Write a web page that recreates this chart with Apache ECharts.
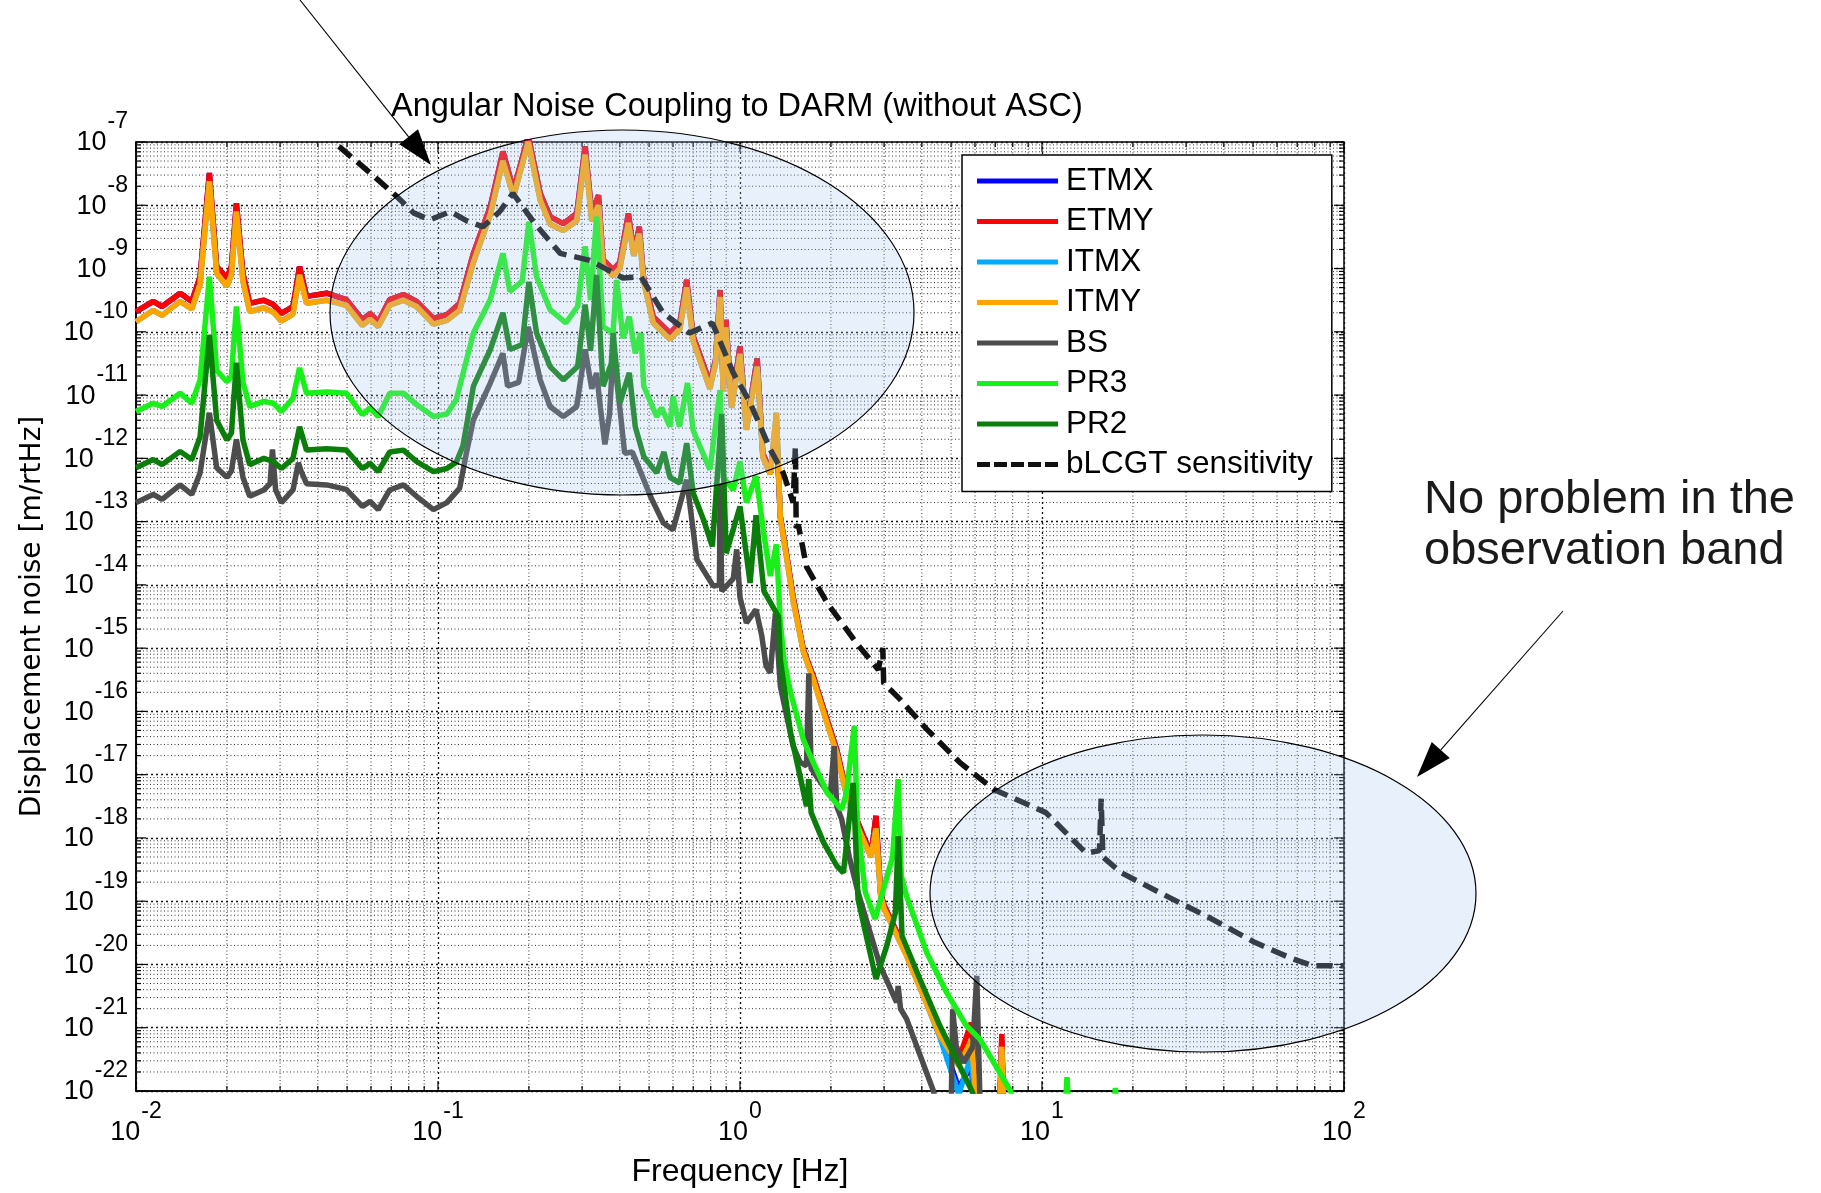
<!DOCTYPE html>
<html>
<head>
<meta charset="utf-8">
<title>Angular Noise Coupling to DARM</title>
<script src="https://cdn.jsdelivr.net/npm/echarts@6/dist/echarts.min.js"></script>
<style>
    html, body { margin: 0; padding: 0; background: #fff; }
    #chart { width: 1821px; height: 1193px; }
</style>
</head>
<body>
<div id="chart"></div>
<script>
/* ================================================================
   Angular noise coupling to DARM.
   Frequencies in Hz, noise given as log10 of [m/rtHz]
   ================================================================ */

/* ===== test masses (ETMX / ETMY / ITMX / ITMY share one grid) ===== */
const fTM = [
    0.010, 0.0114, 0.0122, 0.014, 0.0153, 0.0163, 0.0175, 0.0185, 0.020, 0.0207,
    0.0215, 0.0226, 0.0238, 0.0265, 0.0285, 0.0303, 0.0331, 0.0348, 0.0367, 0.0428,
    0.0497, 0.0562, 0.0596, 0.0634, 0.0692, 0.0768, 0.0849, 0.0966, 0.107, 0.118,
    0.131, 0.149, 0.164, 0.178, 0.199, 0.218, 0.235, 0.26, 0.288, 0.307,
    0.323, 0.34, 0.352, 0.38, 0.40, 0.427, 0.445, 0.464, 0.479, 0.516,
    0.586, 0.632, 0.666, 0.70, 0.795, 0.83, 0.859, 0.88, 0.898, 0.938,
    1.0, 1.05, 1.14, 1.19, 1.26, 1.32, 1.36, 1.43, 1.50, 1.62,
    1.75, 1.94, 2.09, 2.23, 2.43, 2.63, 2.72, 2.82, 2.92, 3.0,
    3.56, 4.05, 4.59, 5.3, 5.83, 6.0, 6.3, 7.2, 7.36, 7.5,
    8.5
];
const etmyLog = [
    -9.68, -9.52, -9.60, -9.39, -9.52, -9.13, -7.49, -8.97, -9.15, -8.97,
    -7.97, -9.08, -9.55, -9.50, -9.57, -9.71, -9.60, -8.97, -9.44, -9.39,
    -9.49, -9.81, -9.71, -9.84, -9.49, -9.41, -9.52, -9.79, -9.73, -9.55,
    -8.76, -8.02, -7.15, -7.76, -6.90, -7.81, -8.18, -8.29, -8.13, -7.07,
    -8.13, -7.84, -8.86, -9.02, -8.90, -8.13, -8.76, -8.34, -9.13, -9.76,
    -10.02, -9.86, -9.18, -10.07, -10.81, -10.44, -9.34, -10.90, -9.81, -11.13,
    -10.23, -11.50, -10.42, -11.92, -12.20, -11.50, -12.92, -13.55, -14.20, -15.02,
    -15.45, -16.13, -16.60, -17.18, -17.70, -18.10, -18.25, -17.65, -18.86, -19.07,
    -19.81, -20.44, -21.07, -21.50, -20.92, -21.80, -22.30, -22.60, -21.10, -22.60,
    -23.50
];
const etmxLog = [
    -9.68, -9.52, -9.60, -9.39, -9.52, -9.13, -7.49, -8.97, -9.15, -8.97,
    -7.97, -9.08, -9.55, -9.50, -9.57, -9.71, -9.60, -8.97, -9.44, -9.39,
    -9.49, -9.81, -9.71, -9.84, -9.49, -9.41, -9.52, -9.79, -9.73, -9.55,
    -8.76, -8.02, -7.15, -7.76, -6.90, -7.81, -8.18, -8.29, -8.13, -7.07,
    -8.13, -7.84, -8.86, -9.02, -8.90, -8.13, -8.76, -8.34, -9.13, -9.76,
    -10.02, -9.86, -9.18, -10.07, -10.81, -10.44, -9.34, -10.90, -9.81, -11.13,
    -10.23, -11.50, -10.42, -11.92, -12.20, -11.50, -12.92, -13.55, -14.20, -15.02,
    -15.45, -16.13, -16.60, -17.18, -17.70, -18.10, -18.25, -17.65, -18.86, -19.07,
    -19.81, -20.44, -21.10, -21.95, -21.60, -22.30, -22.50, -22.60, -21.20, -22.60,
    -23.50
];
const itmyLog = [
    -9.84, -9.66, -9.74, -9.52, -9.64, -9.25, -7.62, -9.08, -9.28, -9.10,
    -8.10, -9.20, -9.68, -9.62, -9.69, -9.83, -9.72, -9.10, -9.55, -9.50,
    -9.58, -9.90, -9.80, -9.92, -9.58, -9.50, -9.60, -9.88, -9.82, -9.66,
    -8.90, -8.15, -7.30, -7.86, -7.00, -7.92, -8.30, -8.40, -8.25, -7.20,
    -8.25, -8.00, -8.95, -9.12, -9.00, -8.28, -8.80, -8.45, -9.20, -9.86,
    -10.12, -9.96, -9.30, -10.15, -10.90, -10.50, -9.45, -10.95, -9.93, -11.20,
    -10.35, -11.55, -10.55, -11.98, -12.25, -11.28, -12.95, -13.60, -14.25, -15.05,
    -15.50, -16.18, -16.66, -17.24, -17.78, -18.16, -18.30, -17.85, -18.90, -19.12,
    -19.86, -20.50, -21.12, -21.60, -21.20, -21.90, -22.30, -22.60, -21.30, -22.60,
    -23.50
];
const itmxLog = [
    -9.84, -9.66, -9.74, -9.52, -9.64, -9.25, -7.62, -9.08, -9.28, -9.10,
    -8.10, -9.20, -9.68, -9.62, -9.69, -9.83, -9.72, -9.10, -9.55, -9.50,
    -9.58, -9.90, -9.80, -9.92, -9.58, -9.50, -9.60, -9.88, -9.82, -9.66,
    -8.90, -8.15, -7.30, -7.86, -7.00, -7.92, -8.30, -8.40, -8.25, -7.20,
    -8.25, -8.00, -8.95, -9.12, -9.00, -8.28, -8.80, -8.45, -9.20, -9.86,
    -10.12, -9.96, -9.30, -10.15, -10.90, -10.50, -9.45, -10.95, -9.93, -11.20,
    -10.35, -11.55, -10.55, -11.98, -12.25, -11.28, -12.95, -13.60, -14.25, -15.05,
    -15.50, -16.18, -16.66, -17.24, -17.78, -18.16, -18.30, -17.85, -18.90, -19.12,
    -19.86, -20.50, -21.15, -22.05, -21.45, -22.20, -22.50, -22.60, -21.35, -22.60,
    -23.50
];

/* ===== BS ===== */
const fBS = [
    0.010, 0.0114, 0.0122, 0.014, 0.0153, 0.0163, 0.0175, 0.0185, 0.020, 0.0207,
    0.0215, 0.0226, 0.0238, 0.0265, 0.0278, 0.0283, 0.029, 0.0303, 0.0331, 0.0345,
    0.0352, 0.0367, 0.0428, 0.0497, 0.0562, 0.0596, 0.0634, 0.0692, 0.0768, 0.0849,
    0.0966, 0.107, 0.118, 0.124, 0.131, 0.149, 0.164, 0.17, 0.185, 0.199,
    0.218, 0.235, 0.26, 0.288, 0.307, 0.323, 0.335, 0.345, 0.357, 0.37,
    0.38, 0.40, 0.415, 0.44, 0.47, 0.505, 0.557, 0.60, 0.666, 0.72,
    0.816, 0.855, 0.859, 0.87, 0.95, 0.975, 1.0, 1.05, 1.13, 1.18,
    1.22, 1.26, 1.31, 1.36, 1.50, 1.58, 1.66, 1.69, 1.72, 1.99,
    2.05, 2.09, 2.17, 2.3, 2.46, 2.91, 3.3, 3.34, 3.4, 3.56,
    4.37, 4.7, 5.0, 5.06, 5.2, 5.5, 5.9, 6.08, 6.25, 6.6
];
const bsLog = [
    -12.70, -12.57, -12.65, -12.42, -12.57, -12.23, -11.28, -12.15, -12.30, -12.20,
    -11.70, -12.30, -12.60, -12.50, -12.40, -11.86, -12.50, -12.70, -12.50, -12.07,
    -12.20, -12.40, -12.42, -12.49, -12.76, -12.68, -12.81, -12.50, -12.42, -12.60,
    -12.81, -12.70, -12.47, -11.93, -11.39, -10.81, -10.34, -10.86, -10.80, -9.92,
    -10.76, -11.18, -11.34, -11.18, -10.28, -10.90, -10.65, -11.20, -11.78, -11.30,
    -10.28, -11.20, -11.92, -11.90, -12.23, -12.60, -13.02, -13.13, -12.34, -13.60,
    -14.02, -14.00, -12.40, -14.10, -13.90, -13.44, -14.20, -14.60, -14.39, -14.80,
    -15.28, -15.39, -14.45, -15.60, -16.55, -16.80, -16.86, -15.40, -16.90, -17.34,
    -16.55, -17.50, -17.70, -18.30, -18.86, -20.02, -20.60, -20.34, -20.70, -20.86,
    -22.00, -22.70, -22.40, -20.71, -21.30, -21.55, -21.30, -20.18, -22.40, -23.50
];

/* ===== PR3 ===== */
const fPR3 = [
    0.010, 0.0114, 0.0122, 0.014, 0.0153, 0.0163, 0.0175, 0.0185, 0.020, 0.0207,
    0.0215, 0.0226, 0.0238, 0.0265, 0.0285, 0.0303, 0.0331, 0.0348, 0.0367, 0.0428,
    0.0497, 0.0562, 0.0596, 0.0634, 0.0692, 0.0768, 0.0849, 0.0966, 0.107, 0.115,
    0.131, 0.149, 0.164, 0.173, 0.19, 0.20, 0.212, 0.235, 0.265, 0.29,
    0.307, 0.32, 0.335, 0.352, 0.38, 0.39, 0.41, 0.43, 0.45, 0.47,
    0.48, 0.53, 0.55, 0.586, 0.60, 0.63, 0.67, 0.70, 0.795, 0.859,
    0.88, 0.95, 1.0, 1.05, 1.13, 1.2, 1.26, 1.32, 1.36, 1.40,
    1.47, 1.62, 1.69, 1.94, 2.17, 2.25, 2.39, 2.45, 2.60, 2.80,
    3.2, 3.34, 3.42, 3.56, 4.15, 4.83, 5.62, 6.23, 7.87, 8.5,
    11.9, 12.1, 12.3, 17.3, 17.5, 17.7, 25
];
const pr3Log = [
    -11.26, -11.13, -11.18, -10.97, -11.13, -10.76, -9.13, -10.61, -10.79, -10.70,
    -9.60, -10.80, -11.18, -11.10, -11.13, -11.26, -11.05, -10.57, -10.97, -10.95,
    -10.97, -11.31, -11.20, -11.34, -10.97, -10.97, -11.15, -11.34, -11.30, -11.07,
    -10.02, -9.49, -8.76, -9.36, -9.20, -8.26, -9.13, -9.65, -9.86, -9.60,
    -8.65, -9.50, -8.18, -9.92, -10.02, -9.18, -10.10, -9.76, -10.34, -10.02,
    -10.86, -11.34, -11.20, -11.50, -11.02, -11.50, -10.81, -11.56, -12.18, -10.92,
    -12.30, -12.50, -12.05, -12.70, -12.28, -13.20, -13.86, -13.36, -14.60, -15.20,
    -15.70, -16.44, -16.65, -17.28, -17.55, -17.30, -16.23, -17.80, -18.86, -19.28,
    -18.30, -17.07, -18.60, -18.92, -19.81, -20.44, -20.97, -21.18, -22.00, -22.50,
    -22.40, -21.78, -22.40, -22.30, -21.95, -22.30, -23.00
];

/* ===== PR2 ===== */
const fPR2 = [
    0.010, 0.0114, 0.0122, 0.014, 0.0153, 0.0163, 0.0175, 0.0185, 0.020, 0.0207,
    0.0215, 0.0226, 0.0238, 0.0265, 0.0285, 0.0303, 0.0331, 0.0348, 0.0367, 0.0428,
    0.0497, 0.0562, 0.0596, 0.0634, 0.0692, 0.0768, 0.0849, 0.0966, 0.107, 0.115,
    0.121, 0.131, 0.149, 0.164, 0.173, 0.19, 0.20, 0.212, 0.235, 0.26,
    0.29, 0.307, 0.32, 0.335, 0.352, 0.375, 0.38, 0.40, 0.43, 0.45,
    0.48, 0.53, 0.56, 0.586, 0.632, 0.666, 0.70, 0.757, 0.81, 0.87,
    0.9, 1.0, 1.08, 1.13, 1.2, 1.34, 1.36, 1.47, 1.58, 1.66,
    1.69, 1.72, 1.89, 2.09, 2.2, 2.37, 2.46, 2.82, 3.06, 3.27,
    3.34, 3.44, 3.94, 4.59, 5.86, 6.5
];
const pr2Log = [
    -12.15, -12.02, -12.10, -11.89, -12.02, -11.66, -10.05, -11.40, -11.71, -11.60,
    -10.49, -11.71, -12.10, -12.00, -12.05, -12.16, -12.00, -11.50, -11.87, -11.85,
    -11.87, -12.16, -12.08, -12.21, -11.90, -11.87, -12.05, -12.21, -12.16, -12.06,
    -11.80, -10.86, -10.28, -9.70, -10.28, -10.20, -9.21, -10.02, -10.55, -10.76,
    -10.55, -9.57, -10.30, -9.10, -10.86, -10.50, -10.02, -11.13, -10.65, -11.50,
    -11.97, -12.23, -11.90, -12.30, -12.39, -11.76, -12.55, -12.97, -13.39, -11.30,
    -13.50, -12.76, -13.97, -12.90, -14.10, -14.50, -15.18, -16.34, -17.02, -17.50,
    -17.07, -17.60, -18.07, -18.44, -18.55, -17.13, -18.97, -20.23, -19.71, -19.18,
    -17.97, -19.55, -20.23, -20.97, -22.00, -22.60
];

/* ===== bLCGT sensitivity ===== */
const fSens = [
    0.047, 0.060, 0.073, 0.083, 0.094, 0.110, 0.125, 0.141, 0.160, 0.177,
    0.21, 0.254, 0.318, 0.41, 0.47, 0.556, 0.68, 0.81, 0.95, 1.08,
    1.26, 1.39, 1.50, 1.525, 1.535, 1.56, 1.66, 1.94, 2.43, 2.87,
    2.97, 2.99, 3.39, 4.15, 5.35, 6.9, 10.3, 14.0, 15.5, 15.7,
    15.9, 18.3, 24.9, 35.5, 50.6, 65.9, 78.7, 100
];
const sensLog = [
    -7.07, -7.50, -7.86, -8.12, -8.23, -8.10, -8.25, -8.34, -8.10, -7.81,
    -8.30, -8.76, -8.87, -9.15, -9.13, -9.70, -10.02, -9.86, -10.65, -11.12,
    -11.86, -12.23, -12.70, -11.82, -13.10, -13.05, -13.71, -14.28, -14.92, -15.34,
    -15.00, -15.55, -15.81, -16.28, -16.81, -17.23, -17.60, -18.24, -18.20, -17.38,
    -18.30, -18.55, -18.88, -19.25, -19.65, -19.89, -20.02, -20.02
];

const seriesNames = ["ETMX", "ETMY", "ITMX", "ITMY", "BS", "PR3", "PR2", "bLCGT sensitivity"];
const seriesColors = ["#0000ff", "#ff0000", "#00aaff", "#ffa500", "#4d4d4d", "#19f019", "#0a7d0a", "#111111"];
const xTicks = [0.01, 0.1, 1, 10, 100];
const yMin = -22, yMax = -7;

/* ===== helpers ===== */
const FONT = '"Liberation Sans", Arial, sans-serif';
const pairs = (f, lg) => f.map((x, i) => [x, lg[i]]);
const supText = (exp) => "{b|10}{s|" + exp + "}";
const tickRich = {
    b: { fontSize: 27, fontFamily: FONT, color: "#000", verticalAlign: "bottom" },
    s: { fontSize: 23, fontFamily: FONT, color: "#000", verticalAlign: "top", padding: [0, 0, 23, 1] },
};
const DASH_ICON = "path://M0,0h13v5h-13z M17,0h13v5h-13z M34,0h13v5h-13z M51,0h13v5h-13z M68,0h13v5h-13z";

// minor grid positions (2..9 per decade), MATLAB style
const xGrid = [];
xTicks.forEach((d, i) => {
    xGrid.push([d, -15, 1]);
    if (i < xTicks.length - 1) for (let m = 2; m <= 9; m++) xGrid.push([+(m * d).toPrecision(3), -15, 0]);
});
const yGrid = [];
for (let n = yMin; n <= yMax; n++) {
    yGrid.push([1, n, 1]);
    if (n < yMax) for (let m = 2; m <= 9; m++) yGrid.push([1, n + Math.log10(m), 0]);
}

function renderGrid(isX) {
    return function (params, api) {
        const cs = params.coordSys;
        const major = api.value(2) === 1;
        const p = api.coord([api.value(0), api.value(1)]);
        const len = major ? 10 : 5;
        const tick = { stroke: "#000", lineWidth: 1.2 };
        const dots = { stroke: "#333", lineWidth: 1, lineDash: [1, 2.5] };
        const ch = [];
        if (isX) {
            const x = p[0], t = cs.y, b = cs.y + cs.height;
            if (!major) ch.push({ type: "line", shape: { x1: x, y1: t, x2: x, y2: b }, style: dots });
            ch.push({ type: "line", shape: { x1: x, y1: b, x2: x, y2: b - len }, style: tick });
            ch.push({ type: "line", shape: { x1: x, y1: t, x2: x, y2: t + len }, style: tick });
        } else {
            const y = p[1], l = cs.x, r = cs.x + cs.width;
            if (!major) ch.push({ type: "line", shape: { x1: l, y1: y, x2: r, y2: y }, style: dots });
            ch.push({ type: "line", shape: { x1: l, y1: y, x2: l + len, y2: y }, style: tick });
            ch.push({ type: "line", shape: { x1: r, y1: y, x2: r - len, y2: y }, style: tick });
        }
        return { type: "group", children: ch };
    };
}

function arrow(x1, y1, x2, y2, head, half) {
    const L = Math.hypot(x2 - x1, y2 - y1);
    const ux = (x2 - x1) / L, uy = (y2 - y1) / L;
    const bx = x2 - ux * head, by = y2 - uy * head;
    return [
        { type: "line", z: 101, silent: true, shape: { x1, y1, x2: bx, y2: by }, style: { stroke: "#000", lineWidth: 1.1 } },
        { type: "polygon", z: 101, silent: true,
          shape: { points: [[x2, y2], [bx - uy * half, by + ux * half], [bx + uy * half, by - ux * half]] },
          style: { fill: "#000" } },
    ];
}

/* ===== series ===== */
const traces = [
    pairs(fTM, etmxLog), pairs(fTM, etmyLog), pairs(fTM, itmxLog), pairs(fTM, itmyLog),
    pairs(fBS, bsLog), pairs(fPR3, pr3Log), pairs(fPR2, pr2Log), pairs(fSens, sensLog),
];
const lineSeries = traces.map((data, i) => ({
    type: "line", name: seriesNames[i], data,
    symbol: "none", showSymbol: false, clip: true, silent: true,
    color: seriesColors[i],
    lineStyle: i === 7
        ? { color: seriesColors[i], width: 5.5, type: [16, 8] }
        : { color: seriesColors[i], width: 5.5, type: "solid" },
}));

const chart = echarts.init(document.getElementById("chart"), null, { renderer: "canvas" });
chart.setOption({
    animation: false,
    backgroundColor: "#fff",
    title: {
        text: "Angular Noise Coupling to DARM (without ASC)",
        left: 391, top: 91, padding: 0,
        textStyle: { fontSize: 32.5, fontWeight: "normal", fontFamily: FONT, color: "#000" },
    },
    grid: { left: 136, top: 142, width: 1208, height: 950, show: true, borderColor: "#000", borderWidth: 1.5 },
    legend: {
        data: seriesNames.map((n, i) => ({ name: n, icon: i === 7 ? DASH_ICON : "rect" })),
        orient: "vertical", left: 962, top: 155,
        padding: [10, 19, 11, 15], itemWidth: 81, itemHeight: 5, itemGap: 8.5,
        backgroundColor: "#fff", borderColor: "#000", borderWidth: 1.5,
        selectedMode: false,
        textStyle: { fontSize: 31.5, lineHeight: 30, fontFamily: FONT, color: "#000", padding: [0, 0, 0, 3] },
    },
    xAxis: {
        type: "log", logBase: 10, min: 0.01, max: 100,
        axisLine: { show: true, lineStyle: { color: "#000", width: 1.5 } },
        axisTick: { show: false },
        splitLine: { show: true, lineStyle: { color: "#111", width: 1.3, type: [2, 3] } },
        axisLabel: { margin: 9, formatter: (v) => supText(Math.round(Math.log10(v))), rich: tickRich },
        name: "Frequency [Hz]", nameLocation: "middle", nameGap: 65,
        nameTextStyle: { fontSize: 32, fontFamily: FONT, color: "#000" },
    },
    yAxis: {
        type: "value", min: yMin, max: yMax, interval: 1,
        axisLine: { show: true, lineStyle: { color: "#000", width: 1.5 } },
        axisTick: { show: false },
        splitLine: { show: true, lineStyle: { color: "#111", width: 1.3, type: [2, 3] } },
        axisLabel: { margin: 8, padding: [0, 0, 17, 0], formatter: (v) => supText(v), rich: tickRich },
        name: "Displacement noise [m/rtHz]", nameLocation: "middle", nameGap: 89,
        nameTextStyle: { fontSize: 28, fontFamily: '"DejaVu Sans", sans-serif', color: "#000" },
    },
    series: [
        { type: "custom", name: "xgrid", silent: true, z: 1, data: xGrid, encode: { x: 0, y: 1 }, renderItem: renderGrid(true) },
        { type: "custom", name: "ygrid", silent: true, z: 1, data: yGrid, encode: { x: 0, y: 1 }, renderItem: renderGrid(false) },
        ...lineSeries,
    ],
    graphic: [
        { type: "ellipse", z: 100, silent: true, shape: { cx: 622, cy: 312.5, rx: 292, ry: 182.5 },
          style: { fill: "rgba(163,199,239,0.25)", stroke: "#000", lineWidth: 1.2 } },
        { type: "ellipse", z: 100, silent: true, shape: { cx: 1203, cy: 893.5, rx: 273, ry: 158.5 },
          style: { fill: "rgba(163,199,239,0.25)", stroke: "#000", lineWidth: 1.2 } },
        ...arrow(300, 0, 431, 165, 36, 12),
        ...arrow(1563, 611, 1417, 777, 36, 12),
        { type: "text", z: 101, silent: true, x: 1424, y: 475,
          style: { text: "No problem in the\nobservation band", fontSize: 47, lineHeight: 51,
                   fontFamily: FONT, fill: "#1a1a1a", verticalAlign: "top" } },
    ],
});
</script>
</body>
</html>
